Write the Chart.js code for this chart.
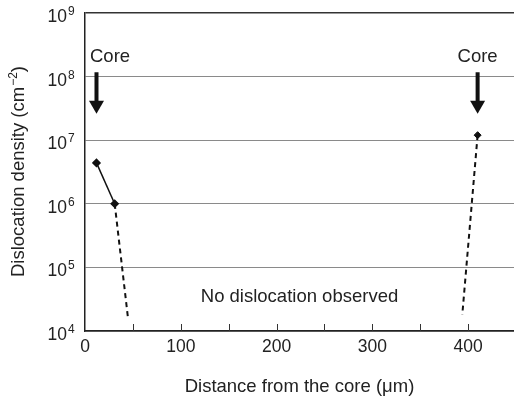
<!DOCTYPE html>
<html>
<head>
<meta charset="utf-8">
<script src="https://cdn.jsdelivr.net/npm/chart.js@4"></script>
<style>
  html, body { margin: 0; padding: 0; background: #fff; }
  #wrap { width: 514px; height: 398px; }
</style>
</head>
<body>
<div id="wrap"><canvas id="grafico" width="514" height="398"></canvas></div>
<script>
// datos
const xTicks = [0, 100, 200, 300, 400];
const xMinorTicks = [50, 100, 150, 200, 250, 300, 350, 400];
const yExponents = [4, 5, 6, 7, 8, 9];

const medidosIzqX = [12, 31];
const medidosIzqY = [4.4e6, 1.0e6];
const tendenciaIzqX = [31, 45];
const tendenciaIzqY = [1.0e6, 1.55e4];
const medidosDerX = [410];
const medidosDerY = [1.2e7];
const tendenciaDerX = [410, 394];
const tendenciaDerY = [1.2e7, 1.8e4];

const coreX = [12, 410];
const coreLabel = "Core";
const coreTextY = 1.7e8;
const coreArrowTop = 1.17e8;
const coreArrowTip = 2.6e7;

const notaTexto = "No dislocation observed";
const notaX = 224;
const notaY = 3.4e4;

const fuente = '"Liberation Sans", Arial, sans-serif';
const colorTexto = "#222";

function puntos(xs, ys) {
  return xs.map((x, i) => ({ x: x, y: ys[i] }));
}

// plugin para dibujar etiquetas con superindices, flechas y nota
const extras = {
  id: "extras",
  afterDraw(chart) {
    const c = chart.ctx;
    const xs = chart.scales.x;
    const ys = chart.scales.y;
    const area = chart.chartArea;
    c.save();
    c.fillStyle = colorTexto;

    // etiquetas del eje y: 10^n
    yExponents.forEach((e) => {
      const py = ys.getPixelForValue(Math.pow(10, e));
      c.font = "17.5px " + fuente;
      c.textAlign = "right";
      c.textBaseline = "alphabetic";
      c.fillText("10", 67, py + 9);
      c.font = "12px " + fuente;
      c.textAlign = "left";
      c.fillText(String(e), 68, py + 2);
    });

    // titulo del eje y
    c.save();
    c.translate(24, (area.top + area.bottom) / 2);
    c.rotate(-Math.PI / 2);
    c.font = "18.5px " + fuente;
    const t1 = "Dislocation density (cm";
    const sup = "\u22122";
    const t3 = ")";
    const w1 = c.measureText(t1).width;
    const w3 = c.measureText(t3).width;
    c.font = "12px " + fuente;
    const w2 = c.measureText(sup).width;
    let x0 = -(w1 + w2 + w3) / 2;
    c.textAlign = "left";
    c.textBaseline = "alphabetic";
    c.font = "18.5px " + fuente;
    c.fillText(t1, x0, 0);
    c.font = "12px " + fuente;
    c.fillText(sup, x0 + w1 + 1, -7);
    c.font = "18.5px " + fuente;
    c.fillText(t3, x0 + w1 + w2 + 1, 0);
    c.restore();

    // marcas menores del eje x hacia dentro
    c.strokeStyle = "#333";
    c.lineWidth = 1;
    xMinorTicks.forEach((v) => {
      const px = Math.round(xs.getPixelForValue(v)) + 0.5;
      c.beginPath();
      c.moveTo(px, area.bottom);
      c.lineTo(px, area.bottom - 7);
      c.stroke();
    });

    // flechas "Core"
    coreX.forEach((v) => {
      const px = xs.getPixelForValue(v);
      const top = ys.getPixelForValue(coreArrowTop);
      const tip = ys.getPixelForValue(coreArrowTip);
      c.font = "18.5px " + fuente;
      const tw = c.measureText(coreLabel).width;
      const cx = Math.max(px, area.left + 5 + tw / 2);
      c.textAlign = "center";
      c.textBaseline = "alphabetic";
      c.fillText(coreLabel, cx, ys.getPixelForValue(coreTextY));
      c.fillStyle = "#111";
      c.fillRect(px - 2, top, 4, tip - top - 12);
      c.beginPath();
      c.moveTo(px - 7.5, tip - 13);
      c.lineTo(px + 7.5, tip - 13);
      c.lineTo(px, tip);
      c.closePath();
      c.fill();
      c.fillStyle = colorTexto;
    });

    // nota
    c.font = "18.5px " + fuente;
    c.textAlign = "center";
    c.textBaseline = "middle";
    c.fillText(notaTexto, xs.getPixelForValue(notaX), ys.getPixelForValue(notaY));
    c.restore();
  },
};

const ctx = document.getElementById("grafico").getContext("2d");

const miGrafico = new Chart(ctx, {
  type: "scatter",
  data: {
    datasets: [
      {
        data: puntos(tendenciaIzqX, tendenciaIzqY),
        showLine: true,
        borderColor: "#111",
        borderWidth: 2,
        borderDash: [5, 4],
        pointRadius: 0,
      },
      {
        data: puntos(tendenciaDerX, tendenciaDerY),
        showLine: true,
        borderColor: "#111",
        borderWidth: 2,
        borderDash: [5, 4],
        pointRadius: 0,
      },
      {
        data: puntos(medidosIzqX, medidosIzqY),
        showLine: true,
        borderColor: "#111",
        borderWidth: 1.5,
        pointStyle: "rectRot",
        pointRadius: 3.5,
        pointBackgroundColor: "#111",
        pointBorderColor: "#111",
      },
      {
        data: puntos(medidosDerX, medidosDerY),
        showLine: false,
        pointStyle: "rectRot",
        pointRadius: 3.5,
        pointBackgroundColor: "#111",
        pointBorderColor: "#111",
      },
    ],
  },
  options: {
    responsive: false,
    animation: false,
    layout: { autoPadding: false, padding: { top: 13, right: 0, left: 0, bottom: 0 } },
    plugins: {
      legend: { display: false },
      tooltip: { enabled: false },
    },
    scales: {
      x: {
        type: "linear",
        min: 0,
        max: 448,
        afterBuildTicks: (axis) => {
          axis.ticks = xTicks.map((v) => ({ value: v }));
        },
        afterFit: (axis) => {
          axis.height = 67;
          axis.paddingLeft = 0;
          axis.paddingRight = 0;
        },
        ticks: {
          font: { family: fuente, size: 17.5 },
          color: colorTexto,
          padding: 6,
          maxRotation: 0,
        },
        grid: { drawOnChartArea: false, drawTicks: false },
        border: { display: true, color: "#222", width: 1.5 },
        title: {
          display: true,
          text: "Distance from the core (\u03bcm)",
          font: { family: fuente, size: 18.5 },
          color: colorTexto,
          padding: { top: 12, bottom: 0 },
        },
      },
      y: {
        type: "logarithmic",
        min: 1e4,
        max: 1e9,
        afterBuildTicks: (axis) => {
          axis.ticks = yExponents.map((e) => ({ value: Math.pow(10, e) }));
        },
        afterFit: (axis) => {
          axis.width = 85;
          axis.paddingTop = 0;
          axis.paddingBottom = 0;
        },
        ticks: { display: false },
        grid: {
          drawTicks: false,
          color: (c) => (c.tick && c.tick.value >= 1e9 ? "#333" : "#8a8a8a"),
          lineWidth: (c) => (c.tick && c.tick.value >= 1e9 ? 1.5 : 1),
        },
        border: { display: true, color: "#222", width: 1.5 },
      },
    },
  },
  plugins: [extras],
});
</script>
</body>
</html>
